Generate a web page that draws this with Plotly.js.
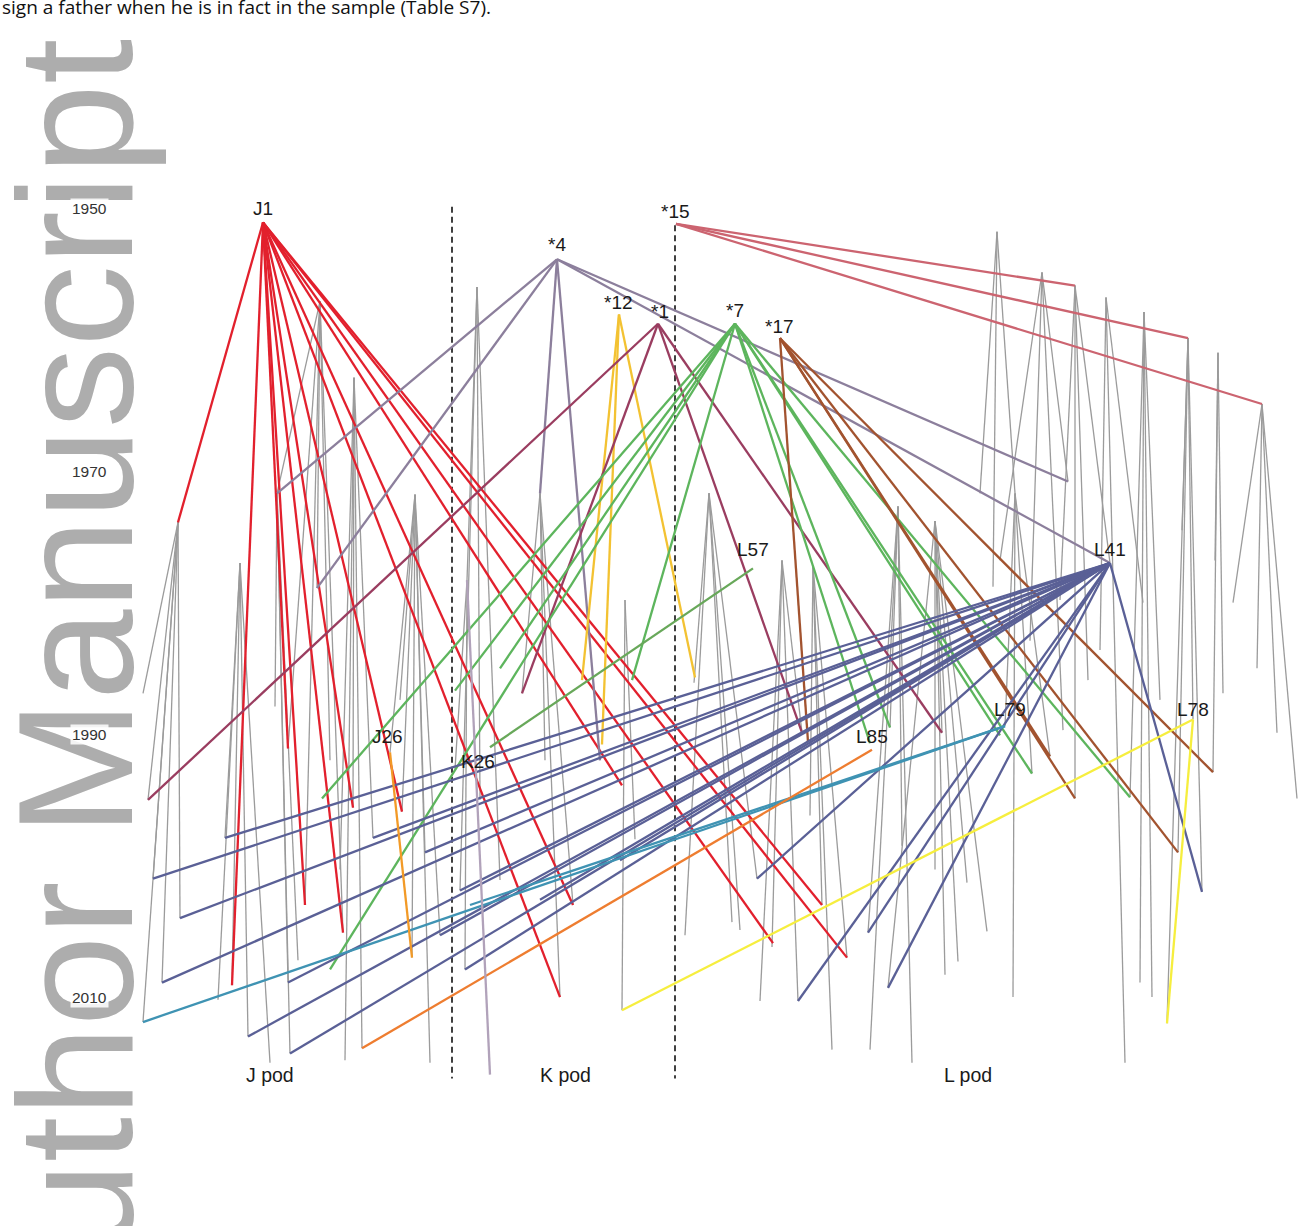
<!DOCTYPE html>
<html><head><meta charset="utf-8">
<script src="https://cdn.plot.ly/plotly-3.0.1.min.js"></script>
<style>html,body{margin:0;padding:0;background:#fff;} #chart{width:1306px;height:1226px;}</style>
</head><body><div id="chart"></div>
<script>
// ---------------- DATA ----------------
// horizontal lineage position (arbitrary layout units) and birth year
const yearTicks = [1950, 1970, 1990, 2010];
const podNames = ['J pod', 'K pod', 'L pod'];
const podLabelPos = [27.0, 56.5, 96.8];
const podLabelYear = 2015.9;
const podBoundaryPos = [45.2, 67.5];
const podBoundaryTop = [1949.9, 1951.3];
const podBoundaryBottom = 2016.2;

// mothers (grey lines: mother -> calf)
const motherPos  = [17.8, 24.0, 32.0, 27.7, 35.4, 41.5, 47.7, 46.7, 54.0, 62.5,
                    70.9, 78.2, 81.3, 89.8, 93.5, 99.7, 101.5, 104.2, 107.5, 110.6, 114.4, 118.8, 121.8, 126.2];
const motherYear = [1973.9, 1977.0, 1957.1, 1971.7, 1962.9, 1971.8, 1956.0, 1978.3, 1971.7, 1979.8,
                    1971.7, 1976.8, 1977.2, 1972.7, 1973.8, 1951.8, 1971.7, 1954.9, 1955.9, 1956.8, 1957.9, 1959.9, 1961.0, 1964.9];
const calfPos = [
  [14.3, 14.8, 15.3, 18.0, 16.2, 14.3],
  [22.5, 23.2, 24.8, 27.0, 21.8],
  [27.7, 28.8, 31.7, 34.3, 30.5, 33.0],
  [27.5, 29.0, 28.8, 29.8],
  [35.3, 34.5, 37.3, 36.2, 34.0],
  [40.2, 41.2, 42.5, 40.0, 43.0, 44.0, 39.0],
  [46.7, 46.0, 48.0, 50.0],
  [46.5, 45.5],
  [52.2, 54.5, 56.0, 57.3],
  [62.2, 63.5],
  [68.5, 73.2, 69.4, 75.7, 74.0],
  [76.0, 77.2, 79.8, 80.2],
  [81.0, 83.2, 82.2, 84.7],
  [90.2, 91.2, 87.0, 86.8, 89.0],
  [93.5, 94.5, 95.8, 96.7, 98.7, 88.8, 94.2],
  [98.0, 99.3, 101.5],
  [100.5, 101.3, 103.2, 105.0],
  [103.0, 106.3, 106.8, 100.0],
  [107.5, 108.8, 111.0, 106.0],
  [112.5, 110.0, 114.3],
  [114.0, 115.2, 113.0, 116.0],
  [117.8, 116.7, 119.3, 120.2, 118.2],
  [121.3, 121.5, 122.3],
  [123.3, 125.7, 127.7, 129.7]
];
const calfYear = [
  [1986.9, 1995.0, 2001.0, 2004.0, 2008.9, 2011.9],
  [1997.9, 2009.1, 2013.0, 2015.0, 2010.2],
  [1971.7, 1991.1, 1978.9, 2005.1, 2003.0, 1992.0],
  [1987.9, 2014.3, 2008.9, 2007.2],
  [1995.6, 2014.8, 1997.9, 2013.9, 2000.3],
  [1995.9, 2007.0, 1999.0, 1987.4, 2015.0, 2005.3, 1991.4],
  [1978.3, 2001.9, 1995.0, 2001.1],
  [2007.9, 1992.7],
  [1986.9, 1992.0, 2010.0, 2003.0],
  [2011.0, 1998.0],
  [2005.3, 2004.3, 1986.1, 2001.0, 2004.9],
  [2010.3, 2006.2, 2010.3, 1989.9],
  [1996.2, 2014.0, 2003.0, 2007.0],
  [1998.5, 2015.0, 2014.0, 2005.1, 1989.5],
  [2000.3, 2008.3, 2007.3, 2001.3, 2005.0, 2009.3, 1989.9],
  [1971.7, 1978.8, 1971.7],
  [1989.4, 2010.0, 1993.0, 1991.7],
  [1982.9, 1989.7, 1970.8, 1976.8],
  [1994.9, 1985.9, 1977.0, 1979.8],
  [2015.0, 1983.6, 1980.0],
  [2008.9, 2010.0, 1994.8, 1987.4],
  [1999.0, 2012.0, 1988.9, 2002.0, 1974.5],
  [1992.9, 1976.8, 1986.9],
  [1980.0, 1985.0, 1989.9, 1994.9]
];

// fathers (coloured lines: father -> offspring)
const fatherNames = ['J1', '*4', '*12', '*1', '*7', '*17', '*15', 'L41', 'L79', 'L85', 'L78', 'J26', 'L57', 'K'];
const fatherPos  = [26.3, 55.7, 61.9, 65.8, 73.5, 78.0, 67.6, 111.0, 100.5, 87.2, 119.3, 39.0, 75.3, 46.7];
const fatherYear = [1951.1, 1953.9, 1958.1, 1958.8, 1958.8, 1959.9, 1951.2, 1977.0, 1989.4, 1991.2, 1988.9, 1991.4, 1977.4, 1978.3];
const offspringPos = [
  [17.8, 23.2, 28.8, 30.5, 34.3, 35.3, 40.2, 56.0, 57.3, 62.2, 77.3, 82.2, 84.7],
  [27.7, 31.7, 54.0, 60.0, 106.8, 111.0],
  [58.2, 60.2, 69.5],
  [14.8, 52.2, 80.2, 94.2],
  [32.2, 33.0, 45.5, 50.0, 63.2, 87.0, 89.0, 103.2, 113.0, 100.0],
  [80.8, 105.0, 107.5, 117.8, 121.3],
  [107.5, 118.8, 126.2],
  [22.5, 15.3, 18.0, 16.2, 24.8, 29.0, 28.8, 37.3, 42.5, 46.5, 46.0, 54.0, 75.7, 79.8, 86.8, 88.8, 120.2, 44.0, 62.0],
  [14.3, 47.0],
  [36.2],
  [62.2, 116.7],
  [41.2],
  [49.0],
  [49.0]
];
const offspringYear = [
  [1973.9, 2009.1, 1991.1, 2003.0, 2005.1, 1995.6, 1995.9, 2010.0, 2003.0, 1993.9, 2005.9, 2003.0, 2007.0],
  [1971.7, 1978.9, 1971.7, 1992.0, 1970.8, 1977.0],
  [1985.9, 1990.8, 1985.7],
  [1995.0, 1986.9, 1989.9, 1989.9],
  [1994.9, 2007.9, 1986.7, 1985.0, 1985.9, 1990.7, 1989.5, 1993.0, 1994.8, 1990.1],
  [1990.6, 1991.7, 1994.9, 1999.0, 1992.9],
  [1955.9, 1959.9, 1964.9],
  [1997.9, 2001.0, 2004.0, 2008.9, 2013.0, 2014.3, 2008.9, 1997.9, 1999.0, 2007.9, 2001.9, 2002.6, 2001.0, 2010.3, 2005.1, 2009.3, 2002.0, 2005.3, 1999.6],
  [2011.9, 2003.0],
  [2013.9],
  [2011.0, 2012.0],
  [2007.0],
  [1991.0],
  [2015.9]
];

// text labels of individuals
const labelText = ['J1', '*15', '*4', '*12', '*1', '*7', '*17', 'L57', 'L41', 'J26', 'K26', 'L85', 'L79', 'L78'];
const labelPos  = [26.3, 67.5, 55.7, 61.8, 66.0, 73.5, 77.9, 75.3, 111.0, 38.7, 47.8, 87.2, 101.0, 119.3];
const labelYear = [1950.0, 1950.3, 1952.8, 1957.2, 1957.9, 1957.8, 1959.0, 1976.0, 1976.0, 1990.2, 1992.1, 1990.2, 1988.1, 1988.1];

// ---------------- STYLE ----------------
const fatherColors = {
  'J1': '#e2202d', '*4': '#8c7f9c', '*12': '#f3c232', '*1': '#9a3d60', '*7': '#5db55d',
  '*17': '#a2532f', '*15': '#cc6470', 'L41': '#5a6096', 'L79': '#3f93b3', 'L85': '#ee7d30',
  'L78': '#f6ee3e', 'J26': '#f29a27', 'L57': '#68a85a', 'K': '#b1a2ba'
};

function fan(px, py, kx, ky) {
  const xs = [], ys = [];
  for (let i = 0; i < kx.length; i++) { xs.push(px, kx[i], null); ys.push(py, ky[i], null); }
  return {xs, ys};
}

const traces = [];
// grey maternal lines
let gx = [], gy = [];
for (let m = 0; m < motherPos.length; m++) {
  const f = fan(motherPos[m], motherYear[m], calfPos[m], calfYear[m]);
  gx = gx.concat(f.xs); gy = gy.concat(f.ys);
}
traces.push({type: 'scatter', mode: 'lines', x: gx, y: gy, hoverinfo: 'skip',
  line: {color: '#9b9b9b', width: 1.3}, showlegend: false});

// pod boundaries
for (let i = 0; i < podBoundaryPos.length; i++) {
  traces.push({type: 'scatter', mode: 'lines', x: [podBoundaryPos[i], podBoundaryPos[i]],
    y: [podBoundaryTop[i], podBoundaryBottom], hoverinfo: 'skip',
    line: {color: '#111', width: 1.6, dash: '6px,4px'}, showlegend: false});
}

// coloured paternal lines
for (let k = 0; k < fatherNames.length; k++) {
  const f = fan(fatherPos[k], fatherYear[k], offspringPos[k], offspringYear[k]);
  traces.push({type: 'scatter', mode: 'lines', x: f.xs, y: f.ys, hoverinfo: 'skip',
    line: {color: fatherColors[fatherNames[k]], width: 2.3}, showlegend: false});
}

const annotations = [];
// watermark
annotations.push({xref: 'paper', yref: 'paper', x: 74.5 / 1306, y: 1 - 700 / 1226, text: 'Author Manuscript',
  textangle: -90, showarrow: false, xanchor: 'center', yanchor: 'middle',
  font: {family: 'Liberation Sans, Arial, sans-serif', size: 163, color: '#adadad'}});
// top running text
annotations.push({xref: 'paper', yref: 'paper', x: 0, y: 1, xanchor: 'left', yanchor: 'top', yshift: 8,
  text: 'sign a father when he is in fact in the sample (Table S7).', showarrow: false,
  font: {family: 'Open Sans, sans-serif', size: 19, color: '#111'}});
// year ticks
yearTicks.forEach(v => annotations.push({x: 8.95, y: v, xref: 'x', yref: 'y', text: String(v), showarrow: false,
  bgcolor: 'rgba(255,255,255,0.85)', borderpad: 1,
  font: {family: 'Liberation Sans, Arial, sans-serif', size: 15.5, color: '#333'}}));
// individual labels
labelText.forEach((t, i) => annotations.push({x: labelPos[i], y: labelYear[i], xref: 'x', yref: 'y', text: t,
  showarrow: false, font: {family: 'Liberation Sans, Arial, sans-serif', size: 19, color: '#1a1a1a'}}));
// pod labels
podNames.forEach((t, i) => annotations.push({x: podLabelPos[i], y: podLabelYear, xref: 'x', yref: 'y', text: t,
  showarrow: false, font: {family: 'Liberation Sans, Arial, sans-serif', size: 19.5, color: '#1a1a1a'}}));

const layout = {
  width: 1306, height: 1226,
  margin: {l: 0, r: 0, t: 0, b: 0},
  paper_bgcolor: '#fff', plot_bgcolor: '#fff',
  xaxis: {range: [0, 130.6], visible: false, fixedrange: true},
  yaxis: {range: [2027.41, 1934.18], visible: false, fixedrange: true},
  showlegend: false,
  annotations: annotations
};

Plotly.newPlot('chart', traces, layout, {staticPlot: true});
</script>
</body></html>
